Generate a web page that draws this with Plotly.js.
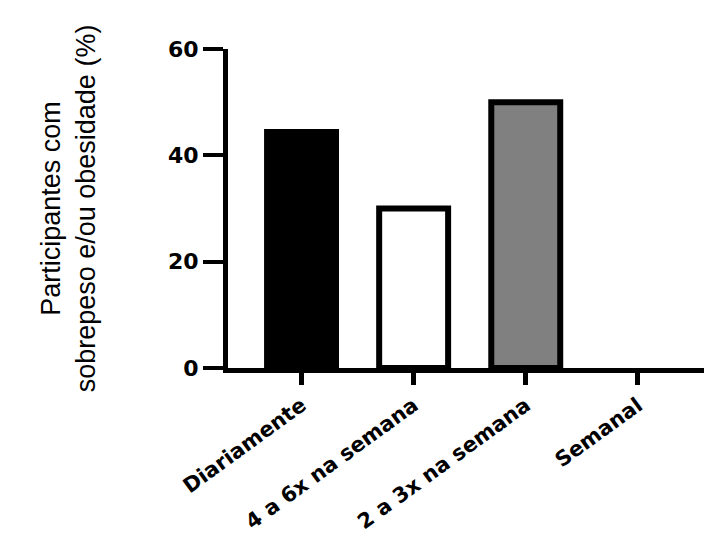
<!DOCTYPE html>
<html>
<head>
<meta charset="utf-8">
<script src="https://cdn.plot.ly/plotly-3.0.1.min.js"></script>
<style>
  html, body { margin: 0; padding: 0; background: #ffffff; }
  #chart { width: 704px; height: 540px; }
</style>
</head>
<body>
<div id="chart"></div>
<script>
// Data
const categories = ["Diariamente", "4 a 6x na semana", "2 a 3x na semana", "Semanal"];
const values = [44.4, 30, 50, 0];
const barColors = ["#000000", "#ffffff", "#808080", "#ffffff"];
const yTickValues = [0, 20, 40, 60];
const yTickLabels = ["0", "20", "40", "60"];
const yTitle = "Participantes com<br>sobrepeso e/ou obesidade (%)";

const trace = {
  type: "bar",
  x: categories,
  y: values,
  width: 0.615,
  marker: {
    color: barColors,
    line: { color: "#000000", width: values.map(v => (v > 0 ? 6 : 0)) }
  },
  hoverinfo: "x+y"
};

const yTickFont = { family: "DejaVu Sans, Liberation Sans, Arial", size: 22, color: "#000000", weight: 700 };
const xTickFont = { family: "DejaVu Sans, Liberation Sans, Arial", size: 21, color: "#000000", weight: 700 };

const layout = {
  width: 704,
  height: 540,
  paper_bgcolor: "#ffffff",
  plot_bgcolor: "#ffffff",
  margin: { l: 228, r: 0, t: 49, b: 172, pad: 0 },
  showlegend: false,
  xaxis: {
    type: "category",
    range: [-0.656, 3.59],
    showline: true,
    linecolor: "#000000",
    linewidth: 5,
    ticks: "outside",
    ticklen: 12,
    tickwidth: 5,
    tickcolor: "#000000",
    tickangle: -36,
    tickfont: xTickFont,
    showgrid: false,
    zeroline: false,
    automargin: false,
    fixedrange: true
  },
  yaxis: {
    range: [0, 60],
    tickmode: "array",
    tickvals: yTickValues,
    ticktext: yTickLabels,
    showline: true,
    linecolor: "#000000",
    linewidth: 5,
    ticks: "outside",
    ticklen: 20,
    tickwidth: 4,
    tickcolor: "#000000",
    tickfont: yTickFont,
    showgrid: false,
    zeroline: false,
    automargin: false,
    fixedrange: true,
    title: {
      text: yTitle,
      standoff: 66,
      font: { family: "Liberation Sans Narrow, Liberation Sans, Arial", size: 27, color: "#000000" }
    }
  }
};

Plotly.newPlot("chart", [trace], layout, { displayModeBar: false, staticPlot: true });
</script>
</body>
</html>
